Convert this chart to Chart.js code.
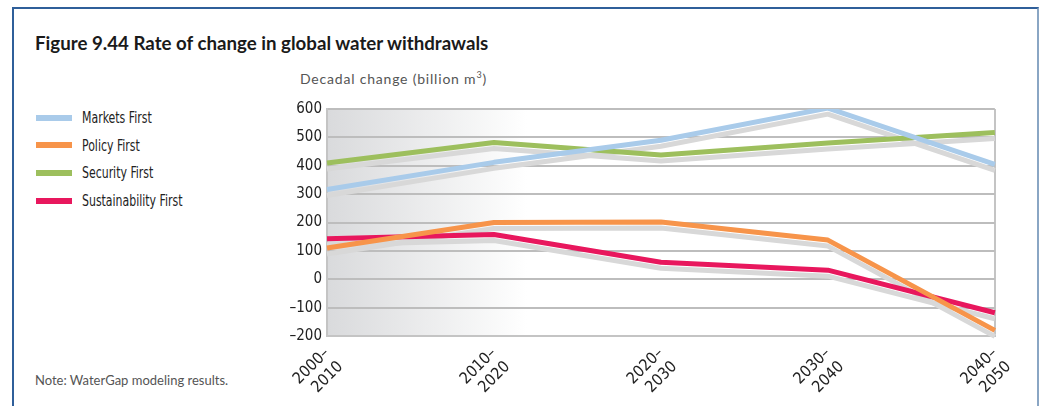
<!DOCTYPE html>
<html>
<head>
<meta charset="utf-8">
<script src="https://cdn.jsdelivr.net/npm/chart.js@4/dist/chart.umd.min.js"></script>
<style>
  html, body { margin: 0; padding: 0; background: #fff; width: 1039px; height: 406px; overflow: hidden; }
  .frame { position: absolute; left: 12px; top: 7px; width: 1023px; height: 420px;
           border-top: 2px solid #2f5f9a; border-left: 2px solid #2f5f9a; border-right: 2px solid #8aa6c4; }
  .title { position: absolute; left: 35px; top: 32px; font: bold 18.7px Lato, sans-serif; color: #1a1a1a; }
  .ytitle { position: absolute; left: 300px; top: 69px; font: 14px Lato, sans-serif; color: #555; letter-spacing: 0.8px; }
  .ytitle sup { font-size: 9px; }
  .note { position: absolute; left: 35px; top: 372px; font: 13px Lato, sans-serif; color: #555; }
  #legend { position: absolute; left: 36px; top: 104px; }
  .item { height: 27.6px; display: flex; align-items: center;
          font: 16px 'Liberation Sans Narrow', 'DejaVu Sans Condensed', sans-serif; color: #222; }
  .item span.txt { display: inline-block; transform: scaleX(0.76); transform-origin: left center; white-space: nowrap; }
  .swatch { width: 36px; height: 6px; margin-right: 10px; }
  .wrap { position: absolute; left: 250px; top: 95px; width: 780px; height: 311px; }
</style>
</head>
<body>
<div class="frame"></div>
<div class="title">Figure 9.44 Rate of change in global water withdrawals</div>
<div class="ytitle">Decadal change (billion m<sup>3</sup>)</div>
<div id="legend"></div>
<div class="note">Note: WaterGap modeling results.</div>
<div class="wrap"><canvas id="chart"></canvas></div>
<script>
// Données
const decades = [['2000–', '2010'], ['2010–', '2020'], ['2020–', '2030'], ['2030–', '2040'], ['2040–', '2050']];
const marketsFirst = [316, 412, 490, 603, 405];
const policyFirst = [110, 200, 202, 138, -180];
const securityFirst = [410, 482, 438, 480, 517];
const sustainabilityFirst = [143, 158, 60, 32, -118];

const narrow = "'Liberation Sans Narrow', 'DejaVu Sans Condensed', sans-serif";

const series = [
    { label: 'Markets First', data: marketsFirst, color: '#a9cbea' },
    { label: 'Policy First', data: policyFirst, color: '#f7944a' },
    { label: 'Security First', data: securityFirst, color: '#9dbf5d' },
    { label: 'Sustainability First', data: sustainabilityFirst, color: '#e8175d' }
];

// Légende HTML
const legend = document.getElementById('legend');
series.forEach(s => {
    const row = document.createElement('div');
    row.className = 'item';
    row.innerHTML = '<span class="swatch" style="background:' + s.color + '"></span><span class="txt">' + s.label + '</span>';
    legend.appendChild(row);
});

// Fond dégradé gris à gauche
const bgGradient = {
    id: 'bgGradient',
    beforeDraw(chart) {
        const { ctx, chartArea: a } = chart;
        const g = ctx.createLinearGradient(a.left, 0, a.left + 200, 0);
        g.addColorStop(0, '#d9dadc');
        g.addColorStop(1, '#ffffff');
        ctx.save();
        ctx.fillStyle = g;
        ctx.fillRect(a.left, a.top, a.right - a.left, a.bottom - a.top);
        ctx.restore();
    }
};

// Ombres grises sous les lignes
const shadows = {
    id: 'shadows',
    beforeDatasetsDraw(chart) {
        const ctx = chart.ctx;
        ctx.save();
        ctx.strokeStyle = '#d8d8d8';
        ctx.lineWidth = 5;
        ctx.lineJoin = 'round';
        chart.data.datasets.forEach((ds, i) => {
            const pts = chart.getDatasetMeta(i).data;
            ctx.beginPath();
            pts.forEach((p, j) => {
                if (j === 0) ctx.moveTo(p.x, p.y + 6);
                else ctx.lineTo(p.x, p.y + 6);
            });
            ctx.stroke();
        });
        ctx.restore();
    }
};

const ctx = document.getElementById('chart').getContext('2d');
new Chart(ctx, {
    type: 'line',
    data: {
        labels: decades,
        datasets: series.map((s, i) => ({
            label: s.label,
            data: s.data,
            borderColor: s.color,
            borderWidth: 5,
            pointRadius: 0,
            tension: 0,
            borderJoinStyle: 'round',
            order: i
        }))
    },
    options: {
        responsive: true,
        maintainAspectRatio: false,
        animation: false,
        layout: { padding: { top: 13, right: 33, left: 0, bottom: 0 } },
        plugins: {
            legend: { display: false },
            tooltip: { enabled: false }
        },
        scales: {
            x: {
                offset: false,
                grid: {
                    color: c => (c.index === 0 || c.index === 4) ? '#c4c4c4' : 'transparent',
                    lineWidth: 2,
                    drawTicks: false
                },
                border: { color: '#c4c4c4', width: 2 },
                ticks: {
                    autoSkip: false,
                    minRotation: 45,
                    maxRotation: 45,
                    padding: 8,
                    color: '#222',
                    font: { family: narrow, size: 16 }
                },
                afterFit: s => { s.height = 70; }
            },
            y: {
                min: -200,
                max: 600,
                grid: { color: '#bdbdbd', lineWidth: 2, drawTicks: false },
                border: { color: '#c4c4c4', width: 2 },
                ticks: {
                    stepSize: 100,
                    padding: 5,
                    color: '#222',
                    font: { family: narrow, size: 15 },
                    callback: v => String(v).replace('-', '–')
                },
                afterFit: s => { s.width = 77; }
            }
        }
    },
    plugins: [bgGradient, shadows]
});
</script>
</body>
</html>
